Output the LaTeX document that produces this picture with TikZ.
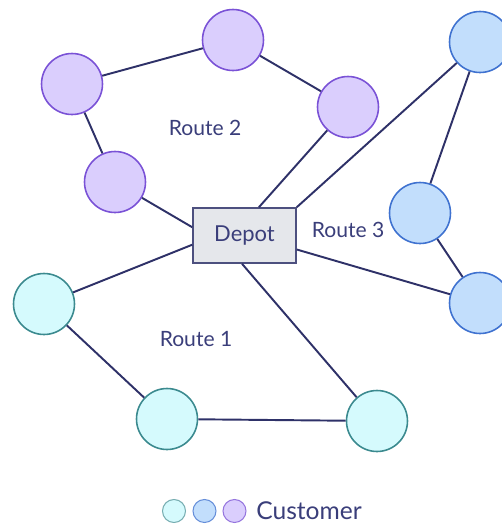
\documentclass[tikz,border=0pt]{standalone}
\usepackage{fontspec}
\setmainfont{Lato}
\usepackage{tikz}
\usetikzlibrary{positioning}
\definecolor{routeink}{RGB}{46,49,104}
\definecolor{labelink}{RGB}{58,62,122}
\definecolor{custpurple}{RGB}{122,82,214}
\definecolor{custpurplefill}{RGB}{218,206,253}
\definecolor{custblue}{RGB}{63,114,208}
\definecolor{custbluefill}{RGB}{194,222,252}
\definecolor{custcyan}{RGB}{59,138,143}
\definecolor{custcyanfill}{RGB}{213,250,253}
\definecolor{depotfill}{RGB}{229,231,235}
\tikzset{
    % customer vertex, one colour per route
    customer/.style={
        circle, minimum size=1.22cm, inner sep=0pt, line width=0.9pt
    },
    purplecust/.style={customer, draw=custpurple, fill=custpurplefill},
    bluecust/.style={customer, draw=custblue, fill=custbluefill},
    cyancust/.style={customer, draw=custcyan, fill=custcyanfill},
    % depot box
    depotbox/.style={
        draw=routeink!85, fill=depotfill, line width=0.9pt,
        minimum width=2.06cm, minimum height=1.1cm,
        font=\fontsize{12.5}{14}\selectfont, text=labelink
    },
    routelabel/.style={font=\fontsize{12}{14}\selectfont, text=labelink},
    % legend dots
    legenddot/.style={circle, minimum size=0.46cm, inner sep=0pt, line width=0.6pt},
}
\tikzset{
    routeedge/.style={line width=1.1pt, routeink},
}

\begin{document}
\begin{tikzpicture}[x=0.02cm,y=-0.02cm]
  \useasboundingbox (0,0) rectangle (502,529);

  % depot
  \node[depotbox] (depot) at (244.5,235.5) {Depot};

  % route 2 (purple)
  \node[purplecust] (p1) at (72,84)   {};
  \node[purplecust] (p2) at (233,40)  {};
  \node[purplecust] (p3) at (348,107) {};
  \node[purplecust] (p4) at (115,182) {};

  % route 3 (blue)
  \node[bluecust] (b1) at (480,42)  {};
  \node[bluecust] (b2) at (420,213) {};
  \node[bluecust] (b3) at (480,303) {};

  % route 1 (cyan)
  \node[cyancust] (c1) at (44,304)  {};
  \node[cyancust] (c2) at (167,419) {};
  \node[cyancust] (c3) at (377,421) {};

  % edges
  \draw[routeedge] (depot.171.7) -- (p4);
  \draw[routeedge] (p4) -- (p1);
  \draw[routeedge] (p1) -- (p2);
  \draw[routeedge] (p2) -- (p3);
  \draw[routeedge] (p3) -- (depot.63.9);

  \draw[routeedge] (depot.north east) -- (b1);
  \draw[routeedge] (b1) -- (b2);
  \draw[routeedge] (b2) -- (b3);
  \draw[routeedge] (b3) -- (depot.-15.7);

  \draw[routeedge] (depot.190.5) -- (c1);
  \draw[routeedge] (c1) -- (c2);
  \draw[routeedge] (c2) -- (c3);
  \draw[routeedge] (c3) -- (depot.265);

  % route labels
  \node[routelabel] (lab2) at (205,128) {Route 2};
  \node[routelabel] (lab3) at (348,230) {Route 3};
  \node[routelabel] (lab1) at (196,339) {Route 1};

  % legend
  \node[legenddot, draw=custcyan!70, fill=custcyanfill] (lg1) at (174,511) {};
  \node[legenddot, draw=custblue!80, fill=custbluefill] (lg2) at (204.5,511) {};
  \node[legenddot, draw=custpurple!80, fill=custpurplefill] (lg3) at (234.5,511) {};
  \node[font=\fontsize{14}{16}\selectfont, text=labelink, anchor=west, inner sep=0pt]
       (lgtext) at (256,511) {Customer};
\end{tikzpicture}
\end{document}
